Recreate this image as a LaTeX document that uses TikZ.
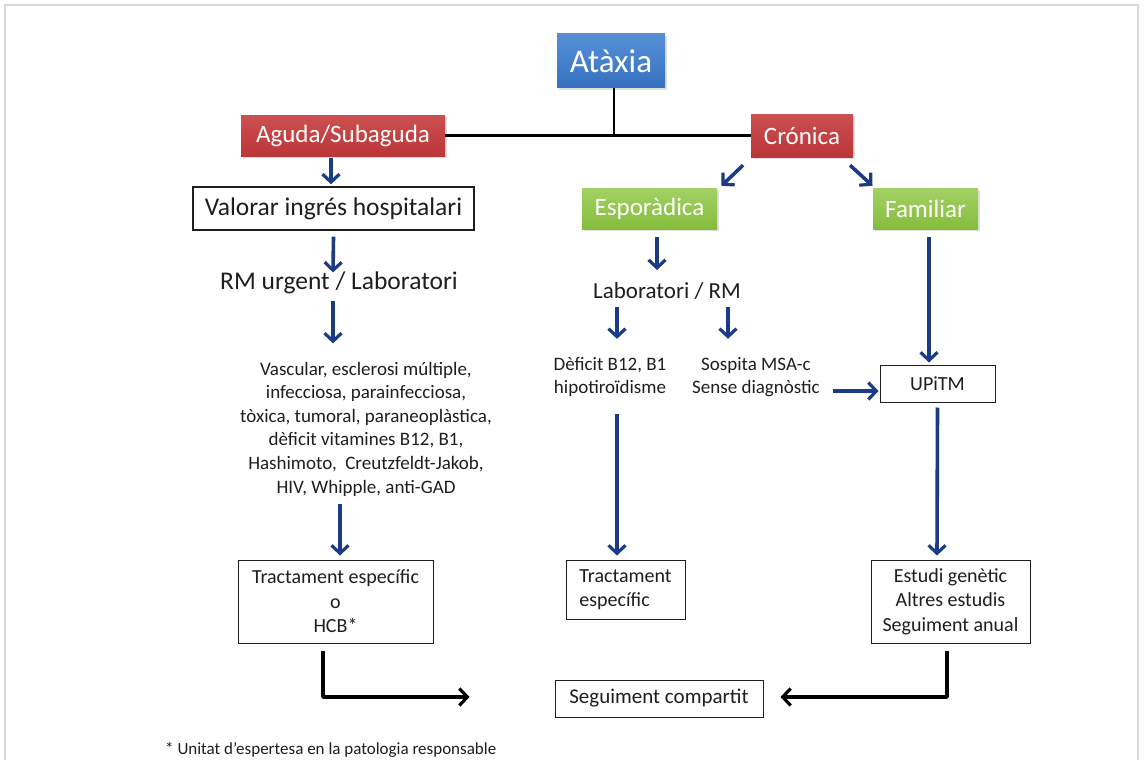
\documentclass[tikz,border=0pt]{standalone}
\usepackage{fontspec}
\setmainfont{Carlito}
\usetikzlibrary{arrows.meta,shadows}
\definecolor{navy}{HTML}{1C3B86}
\definecolor{boxblue}{HTML}{3A7BD0}
\definecolor{boxred}{HTML}{C5383A}
\definecolor{boxgreen}{HTML}{8CC63F}
\definecolor{ink}{HTML}{1E1E1E}
\begin{document}
\begin{tikzpicture}[x=1pt,y=-1pt,
  colbox/.style={inner sep=0pt, text=white, minimum width=#1,
    drop shadow={opacity=0.25, shadow xshift=1.5pt, shadow yshift=-2pt}},
  bluebox/.style={colbox=#1, top color=boxblue!85!white, bottom color=boxblue!92!black},
  redbox/.style={colbox=#1, top color=boxred!88!white, bottom color=boxred!95!black},
  greenbox/.style={colbox=#1, top color=boxgreen!80!white, bottom color=boxgreen!95!black},
  wbox/.style={draw=ink, fill=white, line width=1pt, align=center, text=ink,
    font=\fontsize{20}{24.5}\selectfont},
  plain/.style={align=center, text=ink},
  barrow/.style={draw=navy, line width=3.6pt,
    -{Straight Barb[length=8pt,width=17pt,line width=3.2pt]}},
  karrow/.style={draw=black, line width=3.6pt, line join=round,
    -{Straight Barb[length=8pt,width=17pt,line width=3.2pt]}},
  link/.style={draw=black, line width=2.6pt}
]
\useasboundingbox (0,0) rectangle (1144,760);
% outer frame
\draw[black!15, line width=2.5pt] (5,790) -- (5,5) -- (1138,5) -- (1138,790);

% top level
\node[bluebox=108pt, minimum height=54pt, font=\fontsize{33}{36}\selectfont] (atx) at (611,61) {Atàxia};
\node[redbox=204pt, minimum height=41pt, font=\fontsize{25}{28}\selectfont] (agu) at (343,135.5) {Aguda/Subaguda};
\node[redbox=102pt, minimum height=43pt, font=\fontsize{25}{28}\selectfont] (cro) at (802,135.5) {Crónica};
\draw[link] (agu.east) -- (cro.west);
\draw[link] ([xshift=3pt]atx.south) -- ([xshift=3pt]atx.south |- agu.east);

% acute branch
\node[wbox, line width=1.4pt, minimum width=281pt, minimum height=43pt, inner sep=0pt,
  font=\fontsize{25.5}{28}\selectfont] (valor) at (333.5,208.5) {Valorar ingrés hospitalari};
\node[plain, font=\fontsize{25.5}{28}\selectfont] (rmu) at (339,283) {RM urgent / Laboratori};
\node[plain, font=\fontsize{19}{23.6}\selectfont] (llist) at (366,429)
  {Vascular, esclerosi múltiple,\\ infecciosa, parainfecciosa,\\ tòxica, tumoral, paraneoplàstica,\\
   dèficit vitamines B12, B1,\\ Hashimoto,\ \ Creutzfeldt-Jakob,\\ HIV, Whipple, anti-GAD};
\node[wbox, minimum width=195pt, minimum height=83pt, inner sep=0pt] (trac1) at (335.5,601.5)
  {Tractament específic\\ o\\ HCB*};

\draw[barrow] ([xshift=-12pt,yshift=-2pt]agu.south) -- ([xshift=-2.5pt,yshift=2pt]valor.north);
\draw[barrow] ([yshift=-6pt]valor.south) -- ([xshift=-6pt,yshift=-4pt]rmu.north);
\draw[barrow] ([xshift=-6pt,yshift=-3pt]rmu.south) -- ([xshift=-33pt,yshift=15pt]llist.north);
\draw[barrow] ([xshift=-26pt,yshift=-4pt]llist.south) -- ([xshift=4.5pt,yshift=4pt]trac1.north);

% chronic branch
\node[greenbox=135pt, minimum height=41pt, font=\fontsize{25}{28}\selectfont] (esp) at (649.5,208.5) {Esporàdica};
\node[greenbox=105pt, minimum height=41pt, font=\fontsize{25}{28}\selectfont] (fam) at (925.5,208.5) {Familiar};
\draw[barrow] ([xshift=-59pt,yshift=-8pt]cro.south) -- ([xshift=72pt,yshift=2pt]esp.north);
\draw[barrow] ([xshift=48pt,yshift=-8pt]cro.south) -- ([xshift=-53pt,yshift=2pt]fam.north);

\node[plain, font=\fontsize{23}{26}\selectfont] (labrm) at (667,291) {Laboratori / RM};
\node[plain, font=\fontsize{19}{23}\selectfont] (def) at (610,377) {Dèficit B12, B1\\ hipotiroïdisme};
\node[plain, font=\fontsize{19}{23}\selectfont] (sos) at (756,377) {Sospita MSA-c\\ Sense diagnòstic};
\node[wbox, minimum width=115pt, minimum height=37pt, inner sep=0pt] (upitm) at (937.5,383.5) {UPiTM};
\node[wbox, minimum width=119pt, minimum height=59pt, inner sep=0pt, align=left] (trac2) at (625.5,589.5)
  {Tractament\\ específic};
\node[wbox, minimum width=159pt, minimum height=83pt, inner sep=0pt] (estudi) at (950.5,601.5)
  {Estudi genètic\\ Altres estudis\\ Seguiment anual};

\draw[barrow] ([xshift=7.5pt,yshift=-8pt]esp.south) -- ([xshift=-10pt,yshift=9pt]labrm.north);
\draw[barrow] ([xshift=-50pt,yshift=-4pt]labrm.south) -- ([xshift=7pt,yshift=15pt]def.north);
\draw[barrow] ([xshift=61pt,yshift=-4pt]labrm.south) -- ([xshift=-28pt,yshift=15pt]sos.north);
\draw[barrow] ([xshift=7pt,yshift=-14pt]def.south) -- ([xshift=-8.5pt,yshift=4pt]trac2.north);
\draw[barrow] ([xshift=3.5pt,yshift=-8pt]fam.south) -- ([xshift=-8.5pt,yshift=2pt]upitm.north);
\draw[barrow] ([xshift=10pt,yshift=-14pt]sos.east) -- ([xshift=-1pt,yshift=-7.5pt]upitm.west);
\draw[barrow] ([yshift=-5pt]upitm.south) -- ([xshift=-13.5pt,yshift=4pt]estudi.north);

% shared follow-up
\node[wbox, minimum width=208pt, minimum height=37pt, inner sep=0pt, font=\fontsize{21}{24}\selectfont]
  (seg) at (659,698.5) {Seguiment compartit};
\coordinate (lend) at ([xshift=-85pt,yshift=1.5pt]seg.west);
\coordinate (rend) at ([xshift=17pt,yshift=1.5pt]seg.east);
\draw[karrow] ([xshift=-12.5pt,yshift=-7pt]trac1.south) |- (lend);
\draw[karrow] ([xshift=-3.5pt,yshift=-7pt]estudi.south) |- (rend);

% footnote
\node[anchor=base west, inner sep=0pt, text=ink, font=\fontsize{17}{20}\selectfont] (foot) at (165,754)
  {* Unitat d’espertesa en la patologia responsable};
\end{tikzpicture}
\end{document}
